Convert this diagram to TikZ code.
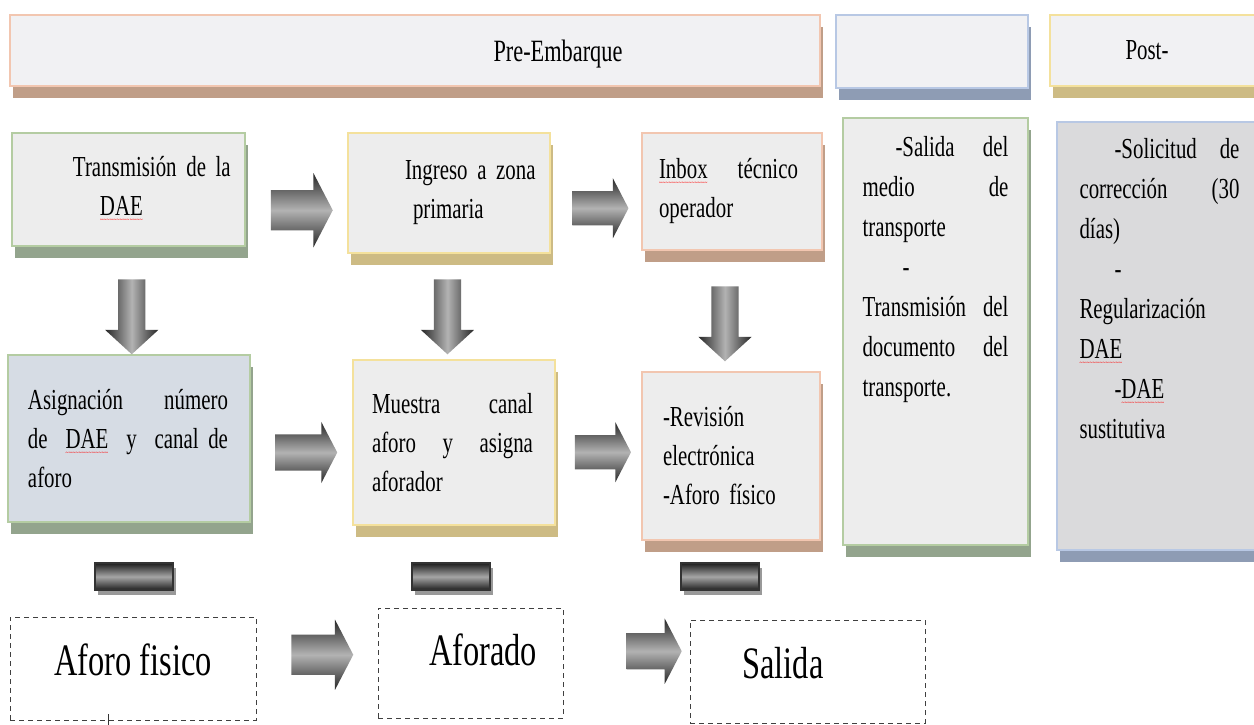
\documentclass[tikz,border=0pt]{standalone}
\usepackage{fontspec}
\setmainfont{Liberation Serif}[FakeStretch=0.72]
\usepackage{xcolor}
\usepackage{tikz}
\usetikzlibrary{shapes.arrows, shadows, calc}

\definecolor{boxgray}{HTML}{EDEDED}
\definecolor{headgray}{HTML}{F1F1F3}
\definecolor{boxblue}{HTML}{D6DCE4}
\definecolor{colgray}{HTML}{DADADC}
\definecolor{linepink}{HTML}{F2C6B0}
\definecolor{shadepink}{HTML}{C09E88}
\definecolor{lineblue}{HTML}{B8C8E4}
\definecolor{shadeblue}{HTML}{8E9CB4}
\definecolor{lineyellow}{HTML}{F4E19C}
\definecolor{shadeyellow}{HTML}{CDBB84}
\definecolor{linegreen}{HTML}{B4CCA2}
\definecolor{shadegreen}{HTML}{93A48D}

% red spell-check wave under a word
\newcommand\spellwave[1]{\setbox0=\hbox{#1}\rlap{\lower7pt\hbox to \wd0{\color{red}\fontsize{8}{8}\selectfont\xleaders\hbox{\char"7E}\hfill}}#1}

\tikzset{
    card/.style 2 args={draw=#1, line width=1.4pt, fill=boxgray,
        drop shadow={fill=#2, opacity=1, shadow xshift=3pt, shadow yshift=-12pt}},
    rarrow/.style={single arrow, single arrow tip angle=125,
        top color=black!85, bottom color=black!85, middle color=black!30},
    darrow/.style={single arrow, shape border rotate=270, single arrow tip angle=95,
        inner sep=13.5pt, single arrow head extend=13pt, minimum height=75pt,
        left color=black!85, right color=black!85, middle color=black!30},
    minusbar/.style={rectangle, minimum width=78pt, minimum height=27pt,
        top color=black!88, bottom color=black!88, middle color=black!35,
        draw=black!80, line width=2pt,
        drop shadow={fill=black!40, opacity=1, shadow xshift=3pt, shadow yshift=-5pt}},
    dashbox/.style={draw=black!75, dash pattern=on 5pt off 4pt, line width=0.9pt,
        fill=white, font=\fontsize{45}{54}\selectfont, text depth=18pt}
}

\begin{document}
\begin{tikzpicture}[x=1pt, y=-1pt, every node/.style={font=\fontsize{29}{39}\selectfont, inner sep=0pt}]
    \useasboundingbox[fill=white] (0,0) rectangle (1254,725);

    % Headers
    \node[card={linepink}{shadepink}, fill=headgray, minimum width=810pt, minimum height=71pt, text depth=0pt, font=\fontsize{31}{38}\selectfont] (hpre) at (415,50.5) {\hspace*{286pt}Pre-Embarque};
    \node[card={lineblue}{shadeblue}, fill=headgray, minimum width=192pt, minimum height=73pt] (hmid) at (932,51.5) {};
    \node[card={lineyellow}{shadeyellow}, fill=headgray, minimum width=212pt, minimum height=71pt, text depth=0pt] (hpost) at (1156,50.5) {Post-\hspace*{18pt}};

    % Row 1
    \node[card={linegreen}{shadegreen}, minimum width=233pt, minimum height=113pt, text width=233pt, align=left] (trans) at (128.5,189.5) {\hspace*{61pt}Transmisión de la\\\hspace*{88pt}\spellwave{DAE}};
    \node[card={lineyellow}{shadeyellow}, minimum width=202pt, minimum height=120pt, text width=202pt, align=left] (ingreso) at (449,193) {\hspace*{57pt}Ingreso a zona\\\hspace*{65pt}primaria};
    \node[card={linepink}{shadepink}, minimum width=180pt, minimum height=117pt, text width=180pt, align=left] (inbox) at (732,191.5) {\hspace*{17pt}\spellwave{Inbox}\hfill técnico\hspace*{24pt}\mbox{}\\\hspace*{17pt}operador};

    % Row 2
    \node[card={linegreen}{shadegreen}, fill=boxblue, minimum width=242pt, minimum height=167pt, text width=242pt, align=left] (asign) at (129,438.5) {\hspace*{20pt}Asignación\hfill número\hspace*{22pt}\mbox{}\\\hspace*{20pt}de\hfill\spellwave{DAE}\hfill y\hfill canal de\hspace*{22pt}\mbox{}\\\hspace*{20pt}aforo};
    \node[card={lineyellow}{shadeyellow}, minimum width=202pt, minimum height=165pt, text width=202pt, align=left] (muestra) at (454,442.5) {\hspace*{19pt}Muestra\hfill canal\hspace*{22pt}\mbox{}\\\hspace*{19pt}aforo\hfill y\hfill asigna\hspace*{22pt}\mbox{}\\\hspace*{19pt}aforador};
    \node[card={linepink}{shadepink}, minimum width=178pt, minimum height=168pt, text width=178pt, align=left] (revision) at (731,456) {\hspace*{21pt}-Revisión\\\hspace*{21pt}electrónica\\\hspace*{21pt}-Aforo físico};

    % Columns
    \node[card={linegreen}{shadegreen}, minimum width=185pt, minimum height=427pt, font=\fontsize{29}{40}\selectfont] (transporte) at (935.5,331.5) {\parbox[c][390pt][t]{146pt}{\hspace*{33pt}-Salida\hfill del\\medio\hfill de\\transporte\\\hspace*{40pt}-\\Transmisión\hfill del\\documento\hfill del\\transporte.}};
    \node[card={lineblue}{shadeblue}, fill=colgray, minimum width=205pt, minimum height=428pt, font=\fontsize{29}{40}\selectfont] (post) at (1159.5,336) {\parbox[c][396pt][t]{160pt}{\hspace*{35pt}-Solicitud\hfill de\\corrección\hfill (30\\días)\\\hspace*{35pt}-\\Regularización\\\spellwave{DAE}\\\hspace*{35pt}-\spellwave{DAE}\\sustitutiva}};

    % Bottom row
    \node[dashbox, minimum width=246pt, minimum height=103pt] (fisico) at (133,668.5) {Aforo fisico};
    \node[dashbox, minimum width=185pt, minimum height=110pt, text depth=27pt] (aforado) at (470.5,663) {\hspace*{25pt}Aforado};
    \node[dashbox, minimum width=235pt, minimum height=103pt] (salida) at (807.5,671.5) {Salida\hspace*{49pt}};
    \draw[black!80, line width=0.8pt] ([xshift=-25pt, yshift=6pt]fisico.south) -- ++(0,12);

    % Block arrows
    \node[rarrow, minimum height=62pt, inner sep=20pt, single arrow head extend=17pt, yshift=-19pt] (r1) at ($(trans.east)!0.5!(ingreso.west)$) {};
    \node[rarrow, minimum height=56pt, inner sep=17pt, single arrow head extend=13pt, yshift=-16pt] (r2) at ($(ingreso.east)!0.5!(inbox.west)$) {};
    \node[rarrow, minimum height=62pt, inner sep=18pt, single arrow head extend=12.5pt, yshift=-12pt] (r3) at ($(asign.east)!0.5!(muestra.west)$) {};
    \node[rarrow, minimum height=56pt, inner sep=17pt, single arrow head extend=13pt, yshift=-3pt] (r4) at ($(muestra.east)!0.5!(revision.west)$) {};
    \node[rarrow, minimum height=62pt, inner sep=20pt, single arrow head extend=15pt, yshift=11pt] (r5) at ($(fisico.east)!0.5!(aforado.west)$) {};
    \node[rarrow, minimum height=55pt, inner sep=18pt, single arrow head extend=14.5pt, xshift=23pt, yshift=16pt] (r6) at ($(aforado.east)!0.5!(salida.west)$) {};
    \node[darrow, xshift=3pt, yshift=-10pt] (d1) at ($(trans.south)!0.5!(asign.north)$) {};
    \node[darrow, xshift=-4pt, yshift=-4pt] (d2) at ($(ingreso.south)!0.5!(muestra.north)$) {};
    \node[darrow, xshift=-6.5pt, yshift=-6.5pt] (d3) at ($(inbox.south)!0.5!(revision.north)$) {};

    % Minus bars
    \node[minusbar, xshift=3pt, yshift=-7pt] (b1) at ($(asign.south)!0.5!(fisico.north)$) {};
    \node[minusbar, xshift=-11pt, yshift=-10pt] (b2) at ($(muestra.south)!0.5!(aforado.north)$) {};
    \node[minusbar, xshift=-49pt, yshift=3.5pt] (b3) at ($(revision.south)!0.5!(salida.north)$) {};
\end{tikzpicture}
\end{document}
